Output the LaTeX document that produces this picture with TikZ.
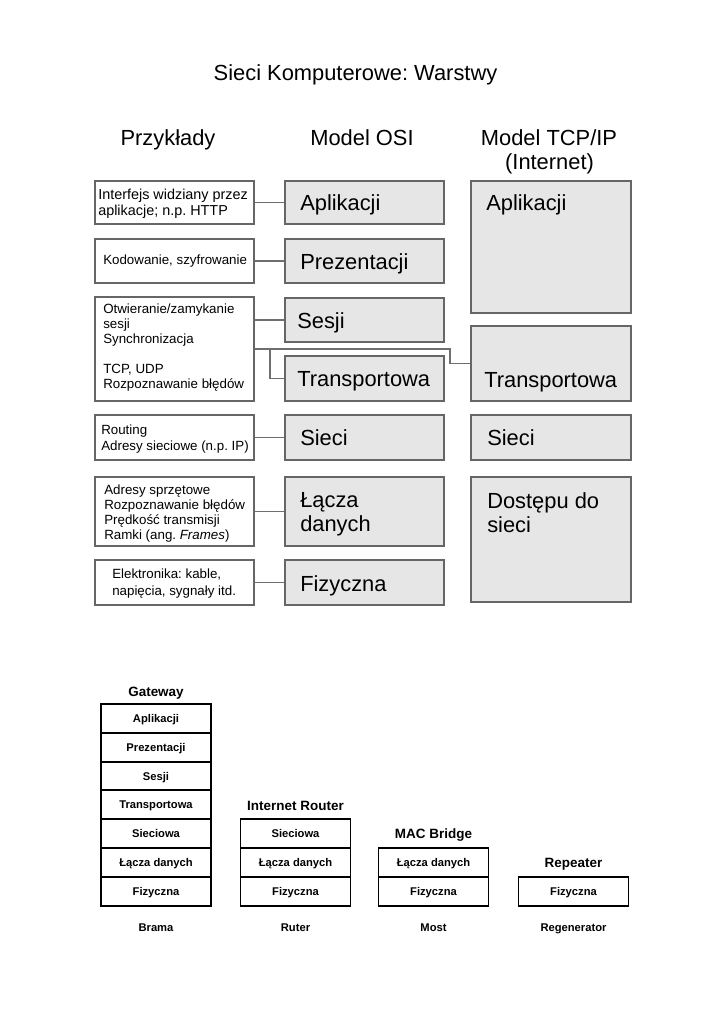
\documentclass[tikz,border=0pt]{standalone}
\usepackage{fontspec}
\setmainfont{Liberation Sans}
\usetikzlibrary{fit}
\definecolor{boxline}{HTML}{666666}
\definecolor{layerfill}{HTML}{E6E6E6}
\definecolor{linkline}{HTML}{6E6E6E}
\tikzset{
  exbox/.style={draw=boxline, line width=0.8pt, inner sep=0pt},
  layerbox/.style={exbox, fill=layerfill},
  link/.style={draw=linkline, line width=0.8pt},
  headtxt/.style={inner sep=0pt, text height=11.8pt, text depth=0pt, font=\fontsize{16.4}{18}\selectfont},
  extxt/.style={anchor=west, inner sep=0pt, align=left, font=\fontsize{10}{11.3}\selectfont},
  layertxt/.style={anchor=west, inner sep=0pt, text height=11.8pt, text depth=0pt, font=\fontsize{16.4}{18}\selectfont},
  layertxt2/.style={anchor=west, inner sep=0pt, align=left, font=\fontsize{16.4}{18}\selectfont},
  cell/.style={draw, line width=1.4pt, minimum width=82.5pt, minimum height=21.6pt, inner sep=0pt, text height=6.2pt, text depth=0pt, font=\bfseries\fontsize{8.4}{10}\selectfont},
  devtitle/.style={inner sep=0pt, text height=7.3pt, text depth=0pt, font=\bfseries\fontsize{10.1}{12}\selectfont},
  devname/.style={inner sep=0pt, text height=6pt, text depth=0pt, font=\bfseries\fontsize{8.4}{10}\selectfont},
}
\begin{document}
\frenchspacing
\begin{tikzpicture}[x=0.75pt,y=-0.75pt]
  \useasboundingbox (0,0) rectangle (724,1024);

  % titles
  \node[headtxt] (title) at (355.5,73) {Sieci Komputerowe: Warstwy};
  \node[headtxt] (hdEx) at (168,138) {Przykłady};
  \node[headtxt] (hdOsi) at (362,138) {Model OSI};
  \node[headtxt] (hdTcp) at (549,138) {Model TCP/IP};
  \node[headtxt] (hdTcp2) at (549.5,162) {(Internet)};

  % examples
  \node[exbox, fit={(95,181) (254,224)}] (ex1) {};
  \node[extxt, font=\fontsize{10.8}{12}\selectfont] at (98,204) {Interfejs widziany przez\\aplikacje; n.p. HTTP};
  \node[exbox, fit={(95,239) (254,283)}] (ex2) {};
  \node[extxt] at (103,261) {Kodowanie, szyfrowanie};
  \node[exbox, fit={(95,297) (254,401)}] (ex3) {};
  \node[extxt] at (103,347.5) {Otwieranie/zamykanie\\sesji\\Synchronizacja\\[11.3pt]TCP, UDP\\Rozpoznawanie błędów};
  \node[exbox, fit={(95,415) (254,460)}] (ex4) {};
  \node[extxt, font=\fontsize{10}{12}\selectfont] at (101,439.5) {Routing\\Adresy sieciowe (n.p. IP)};
  \node[exbox, fit={(95,477) (254,546)}] (ex5) {};
  \node[extxt] at (104,513.5) {Adresy sprzętowe\\Rozpoznawanie błędów\\Prędkość transmisji\\Ramki (ang. \textit{Frames})};
  \node[exbox, fit={(95,560) (254,605)}] (ex6) {};
  \node[extxt, font=\fontsize{10}{12.5}\selectfont] at (112,583.5) {Elektronika: kable,\\napięcia, sygnały itd.};

  % OSI
  \node[layerbox, fit={(285,181) (444,224)}] (osiApl) {};
  \node[layertxt] at (300,203) {Aplikacji};
  \node[layerbox, fit={(285,239) (444,283)}] (osiPre) {};
  \node[layertxt] at (300,262) {Prezentacji};
  \node[layerbox, fit={(285,298) (444,342)}] (osiSes) {};
  \node[layertxt] at (297,321) {Sesji};
  \node[layerbox, fit={(285,356) (444,401)}] (osiTra) {};
  \node[layertxt] at (297,379) {Transportowa};
  \node[layerbox, fit={(285,415) (444,460)}] (osiSie) {};
  \node[layertxt] at (300,438) {Sieci};
  \node[layerbox, fit={(285,477) (444,546)}] (osiLac) {};
  \node[layertxt2] at (300,514.5) {Łącza\\danych};
  \node[layerbox, fit={(285,560) (444,605)}] (osiFiz) {};
  \node[layertxt] at (300,584) {Fizyczna};

  % TCP/IP
  \node[layerbox, fit={(471,181) (631,313)}] (tcpApl) {};
  \node[layertxt] at (486,203) {Aplikacji};
  \node[layerbox, fit={(471,326) (631,401)}] (tcpTra) {};
  \node[layertxt] at (484,380) {Transportowa};
  \node[layerbox, fit={(471,415) (631,460)}] (tcpSie) {};
  \node[layertxt] at (487,438) {Sieci};
  \node[layerbox, fit={(471,477) (631,602)}] (tcpDos) {};
  \node[layertxt2] at (487,513) {Dostępu do\\sieci};

  % links
  \draw[link] (ex1) -- (osiApl);
  \draw[link] (ex2) -- (osiPre);
  \draw[link] (ex3.east |- osiSes) -- (osiSes);
  \coordinate (fork) at (270,349);
  \coordinate (jog) at (450,349);
  \draw[link] (ex3.east) -- (jog) |- (tcpTra.west);
  \draw[link] (fork) |- (osiTra.west);
  \draw[link] (ex4) -- (osiSie);
  \draw[link] (ex5) -- (osiLac);
  \draw[link] (ex6) -- (osiFiz);

  % devices
  \foreach \t [count=\i] in {Aplikacji,Prezentacji,Sesji,Transportowa,Sieciowa,Łącza danych,Fizyczna}
    \node[cell] (gw\i) at (156,{689.6+28.8*\i}) {\t};
  \foreach \t [count=\i] in {Sieciowa,Łącza danych,Fizyczna}
    \node[cell] (rt\i) at (295.5,{804.8+28.8*\i}) {\t};
  \foreach \t [count=\i] in {Łącza danych,Fizyczna}
    \node[cell] (br\i) at (433.5,{833.6+28.8*\i}) {\t};
  \node[cell] (rp1) at (573.5,891.2) {Fizyczna};

  \node[devtitle] (gwTitle) at (156,691.5) {Gateway};
  \node[devtitle] (rtTitle) at (295.5,805.5) {Internet Router};
  \node[devtitle] (brTitle) at (433.5,834) {MAC Bridge};
  \node[devtitle] (rpTitle) at (573.5,862.5) {Repeater};

  \node[devname] (gwName) at (156,927.5) {Brama};
  \node[devname] (rtName) at (295.5,927.5) {Ruter};
  \node[devname] (brName) at (433.5,927.5) {Most};
  \node[devname] (rpName) at (573.5,927.5) {Regenerator};
\end{tikzpicture}
\end{document}
